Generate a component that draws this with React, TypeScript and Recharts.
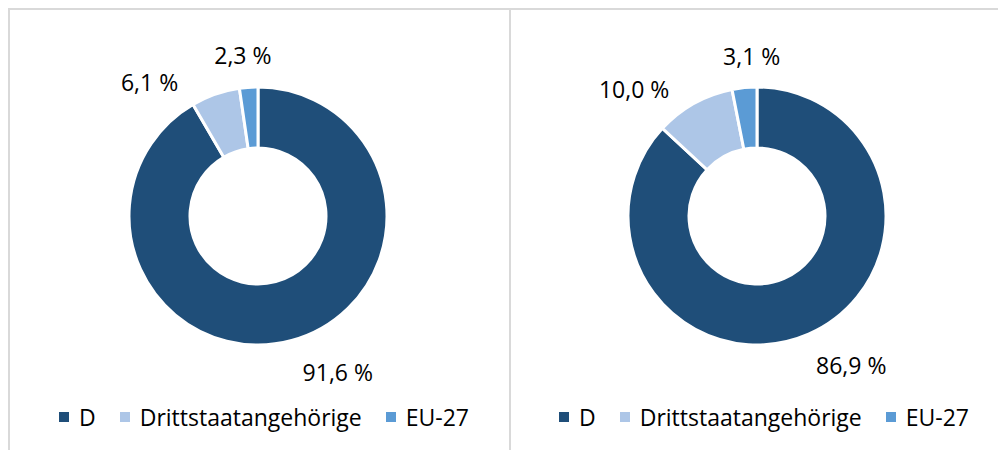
import React from "react"
import { Cell, Legend, Pie, PieChart } from "recharts"

// categories and values (percent)
const categories = ["D", "Drittstaatangehörige", "EU-27"]
const leftValues = [91.6, 6.1, 2.3]
const rightValues = [86.9, 10.0, 3.1]
const colors = ["#1f4e79", "#adc6e7", "#5b9bd5"]

// label nudges (dx, dy) to mimic the hand-placed labels
const leftNudge = [[36, -6], [-53, 25], [-3, 7]]
const rightNudge = [[27, -5], [-41, 20], [11, 7]]

const FONT = "'Open Sans', sans-serif"
const RAD = Math.PI / 180

const fmt = (v: number) => v.toFixed(1).replace(".", ",") + " %"

function makeLabel(nudge: number[][]) {
  return (props: any) => {
    const { cx, cy, midAngle, index, value } = props
    const r = 168
    const x = cx + r * Math.cos(-midAngle * RAD) + nudge[index][0]
    const y = cy + r * Math.sin(-midAngle * RAD) + nudge[index][1]
    return (
      <text x={x} y={y} textAnchor="middle" dominantBaseline="central" fill="#000" fontSize={23} fontFamily={FONT}>
        {fmt(value)}
      </text>
    )
  }
}

function LegendContent() {
  return (
    <div style={{ display: "flex", alignItems: "center", fontFamily: FONT, fontSize: 23, lineHeight: "30px", color: "#000", whiteSpace: "nowrap" }}>
      {categories.map((c, i) => (
        <div key={c} style={{ display: "flex", alignItems: "center", marginRight: 24 }}>
          <span style={{ width: 10, height: 10, background: colors[i], marginRight: 10, display: "inline-block" }} />
          <span>{c}</span>
        </div>
      ))}
    </div>
  )
}

function Donut({ values, nudge, cx, width, legendLeft }: { values: number[]; nudge: number[][]; cx: number; width: number; legendLeft: number }) {
  const data = categories.map((name, i) => ({ name, value: values[i] }))
  return (
    <PieChart width={width} height={450} margin={{ top: 0, right: 0, bottom: 0, left: 0 }}>
      <Pie
        data={data}
        dataKey="value"
        nameKey="name"
        cx={cx}
        cy={216}
        innerRadius={68}
        outerRadius={129}
        startAngle={90}
        endAngle={-270}
        stroke="#fff"
        strokeWidth={3}
        label={makeLabel(nudge)}
        labelLine={false}
        isAnimationActive={false}
      >
        {data.map((d, i) => (
          <Cell key={d.name} fill={colors[i]} />
        ))}
      </Pie>
      <Legend content={<LegendContent />} wrapperStyle={{ left: legendLeft, top: 402, width: "auto" }} />
    </PieChart>
  )
}

export default function App() {
  return (
    <div style={{ position: "absolute", left: 0, top: 0, width: 998, height: 450, overflow: "hidden", background: "#fff" }}>
      <div style={{ position: "absolute", left: 8, top: 8, width: 499, height: 480, borderTop: "2px solid #d9d9d9", borderLeft: "2px solid #d9d9d9", borderRight: "2px solid #d9d9d9" }} />
      <div style={{ position: "absolute", left: 510, top: 8, width: 500, height: 480, borderTop: "2px solid #d9d9d9" }} />
      <div style={{ position: "absolute", left: 0, top: 0 }}>
        <Donut values={leftValues} nudge={leftNudge} cx={258} width={508} legendLeft={59} />
      </div>
      <div style={{ position: "absolute", left: 508, top: 0 }}>
        <Donut values={rightValues} nudge={rightNudge} cx={249} width={490} legendLeft={51} />
      </div>
    </div>
  )
}
